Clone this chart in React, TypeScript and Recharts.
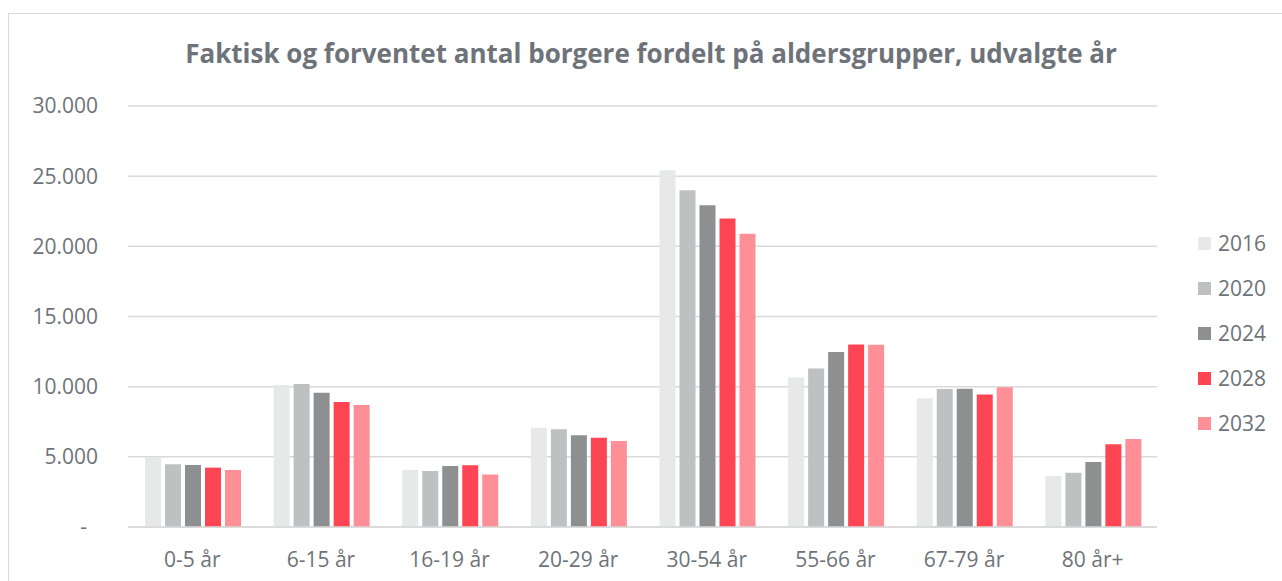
import React from 'react';
import { BarChart, Bar, XAxis, YAxis, CartesianGrid } from 'recharts';

const categories = ['0-5 år', '6-15 år', '16-19 år', '20-29 år', '30-54 år', '55-66 år', '67-79 år', '80 år+'];
const years = ['2016', '2020', '2024', '2028', '2032'];
const v2016 = [4990, 10110, 4060, 7070, 25430, 10660, 9170, 3630];
const v2020 = [4470, 10190, 3990, 6960, 24000, 11300, 9830, 3870];
const v2024 = [4420, 9570, 4350, 6530, 22930, 12470, 9850, 4630];
const v2028 = [4230, 8900, 4400, 6360, 21990, 13010, 9450, 5890];
const v2032 = [4060, 8690, 3750, 6130, 20890, 12990, 9960, 6270];
const yTicks = [0, 5000, 10000, 15000, 20000, 25000, 30000];

const colors = ['#E7E8E8', '#BFC0C2', '#8E8F91', '#FD4553', '#FE8F96'];
const textColor = '#6E7379';
const font = '"Open Sans", sans-serif';

const seriesValues = [v2016, v2020, v2024, v2028, v2032];
const chartData = categories.map((name, i) => {
  const row: Record<string, string | number> = { name };
  years.forEach((y, s) => {
    row[y] = seriesValues[s][i];
  });
  return row;
});

const formatNumber = (v: number) => String(v).replace(/\B(?=(\d{3})+(?!\d))/g, '.');

const YTick = (props: any) => {
  const { x, y, payload } = props;
  const isZero = payload.value === 0;
  return (
    <text
      x={isZero ? x - 11 : x}
      y={y}
      dy="0.355em"
      textAnchor="end"
      fill={textColor}
      fontSize={21}
      fontFamily={font}
    >
      {isZero ? '-' : formatNumber(payload.value)}
    </text>
  );
};

const App: React.FC = () => {
  return (
    <div
      style={{
        position: 'absolute',
        left: 0,
        top: 0,
        width: 1282,
        height: 581,
        overflow: 'hidden',
        background: '#fff',
        fontFamily: font,
      }}
    >
      <div
        style={{
          position: 'absolute',
          left: 8,
          top: 13,
          width: 1300,
          height: 620,
          border: '1px solid #D9D9D9',
        }}
      />
      <div
        style={{
          position: 'absolute',
          left: 0,
          top: 40,
          width: 1302,
          textAlign: 'center',
          fontSize: 26,
          lineHeight: '26px',
          fontWeight: 700,
          color: textColor,
          whiteSpace: 'nowrap',
        }}
      >
        Faktisk og forventet antal borgere fordelt på aldersgrupper, udvalgte år
      </div>
      <div style={{ position: 'absolute', left: 0, top: 0 }}>
        <BarChart
          width={1282}
          height={581}
          data={chartData}
          margin={{ top: 106, right: 125, left: 0, bottom: 0 }}
          barCategoryGap={17}
          barGap={4}
        >
          <CartesianGrid vertical={false} stroke="#D9D9D9" strokeWidth={1.5} />
          <XAxis
            dataKey="name"
            height={54}
            tickLine={false}
            tickSize={0}
            tickMargin={25}
            axisLine={{ stroke: '#D9D9D9', strokeWidth: 1.5 }}
            tick={{ fill: textColor, fontSize: 21, fontFamily: font }}
            interval={0}
          />
          <YAxis
            width={128}
            domain={[0, 30000]}
            ticks={yTicks}
            tickLine={false}
            tickSize={0}
            tickMargin={30}
            axisLine={false}
            tick={<YTick />}
            interval={0}
          />
          {years.map((y, i) => (
            <Bar key={y} dataKey={y} fill={colors[i]} isAnimationActive={false} />
          ))}
        </BarChart>
      </div>
      {years.map((y, i) => (
        <div
          key={y}
          style={{
            position: 'absolute',
            left: 1198,
            top: 243 + i * 45 - 11,
            height: 22,
            display: 'flex',
            alignItems: 'center',
          }}
        >
          <div style={{ width: 13, height: 13, background: colors[i] }} />
          <span style={{ marginLeft: 7, fontSize: 21, lineHeight: '22px', color: textColor }}>{y}</span>
        </div>
      ))}
    </div>
  );
};

export default App;
